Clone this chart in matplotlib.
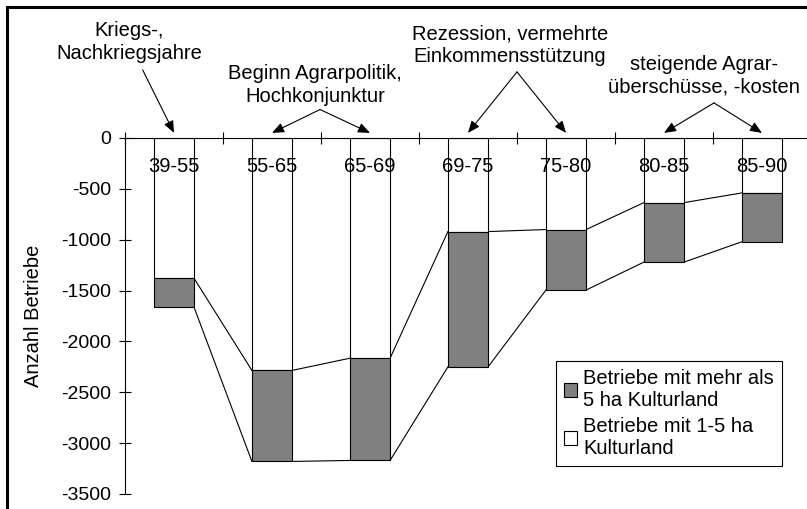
import numpy as np
import matplotlib
matplotlib.use("Agg")
import matplotlib.pyplot as plt
from matplotlib.patches import Rectangle

plt.rcParams["font.family"] = ["Liberation Sans", "DejaVu Sans"]
plt.rcParams["font.size"] = 14.5
plt.rcParams["axes.unicode_minus"] = False

PERIODS = ["39-55", "55-65", "65-69", "69-75", "75-80", "80-85", "85-90"]
SMALL = [-1380, -2285, -2165, -920, -900, -635, -540]      # 1-5 ha
LARGE = [-285, -895, -1005, -1330, -595, -585, -480]       # > 5 ha
Y_TICKS = [0, -500, -1000, -1500, -2000, -2500, -3000, -3500]

# annotations: text, text position, arrow tail, categories pointed at
NOTES = [
    ("Kriegs-,\nNachkriegsjahre", (-0.46, 945), (-0.32, 670), [0]),
    ("Beginn Agrarpolitik,\nHochkonjunktur", (1.44, 520), (1.49, 280), [1, 2]),
    ("Rezession, vermehrte\nEinkommensstützung", (3.43, 915), (3.5, 650), [3, 4]),
    ("steigende Agrar-\nüberschüsse, -kosten", (5.41, 610), (5.51, 345), [5, 6]),
]

W = 0.41
GREY = "#808080"

fig = plt.figure(figsize=(8.07, 5.09), dpi=100)
ax = fig.add_axes([125 / 807, 15 / 509, 686 / 807, 356 / 509])

x = np.arange(len(PERIODS))
small = np.array(SMALL)
large = np.array(LARGE)
total = small + large

ax.bar(x, small, W, color="white", edgecolor="black", linewidth=0.8,
       label="Betriebe mit 1-5 ha\nKulturland", zorder=2)
ax.bar(x, large, W, bottom=small, color=GREY, edgecolor="black", linewidth=0.8,
       label="Betriebe mit mehr als\n5 ha Kulturland", zorder=2)

# series lines between the bars
for i in range(len(x) - 1):
    ax.plot([x[i] + W / 2, x[i + 1] - W / 2], [small[i], small[i + 1]],
            color="black", lw=0.8, zorder=1)
    ax.plot([x[i] + W / 2, x[i + 1] - W / 2], [total[i], total[i + 1]],
            color="black", lw=0.8, zorder=1)

for i, p in enumerate(PERIODS):
    ax.text(x[i], -280, p, ha="center", va="center", zorder=3)

ax.set_xlim(-0.5, len(PERIODS) - 0.5)
ax.set_ylim(-3500, 0)
ax.xaxis.tick_top()
ax.set_xticks(np.arange(-0.5, len(PERIODS), 1.0))
ax.set_xticklabels([])
ax.tick_params(axis="x", direction="inout", length=8, width=0.8, top=True, bottom=False)
ax.set_yticks(Y_TICKS)
ax.set_yticklabels([str(v) for v in Y_TICKS])
ax.tick_params(axis="y", direction="inout", length=8, width=0.8, pad=6, labelsize=14)
for s in ["bottom", "right"]:
    ax.spines[s].set_visible(False)
ax.spines["left"].set_linewidth(0.8)
ax.spines["top"].set_linewidth(0.8)
ax.set_ylabel("Anzahl Betriebe")
ax.yaxis.set_label_coords(-0.1195, 0.5)

for text, tpos, tail, targets in NOTES:
    ax.text(tpos[0], tpos[1], text, ha="center", va="center", linespacing=1.25,
            clip_on=False)
    for t in targets:
        ax.annotate("", xy=(x[t], 50), xytext=tail, annotation_clip=False,
                    arrowprops=dict(arrowstyle="-|>,head_length=0.6,head_width=0.25",
                                    color="black", lw=0.8, mutation_scale=12,
                                    shrinkA=0, shrinkB=0))

handles, labels = ax.get_legend_handles_labels()
leg = ax.legend(handles[::-1], labels[::-1], loc="upper left",
                bbox_to_anchor=(556 / 807, 1 - 361 / 509),
                bbox_transform=fig.transFigure, fancybox=False,
                edgecolor="black", framealpha=1, borderaxespad=0,
                handlelength=0.65, handleheight=0.65, handletextpad=0.3,
                borderpad=0.4, labelspacing=0.35)
leg.get_frame().set_linewidth(0.8)

# outer frame of the figure (cut off at right and bottom)
fig.patches.append(Rectangle((7 / 807, -0.1), 1.1, 1.1 - 7 / 509, fill=False,
                             lw=2.2, edgecolor="black", transform=fig.transFigure))

fig.savefig("out.png", dpi=100)
